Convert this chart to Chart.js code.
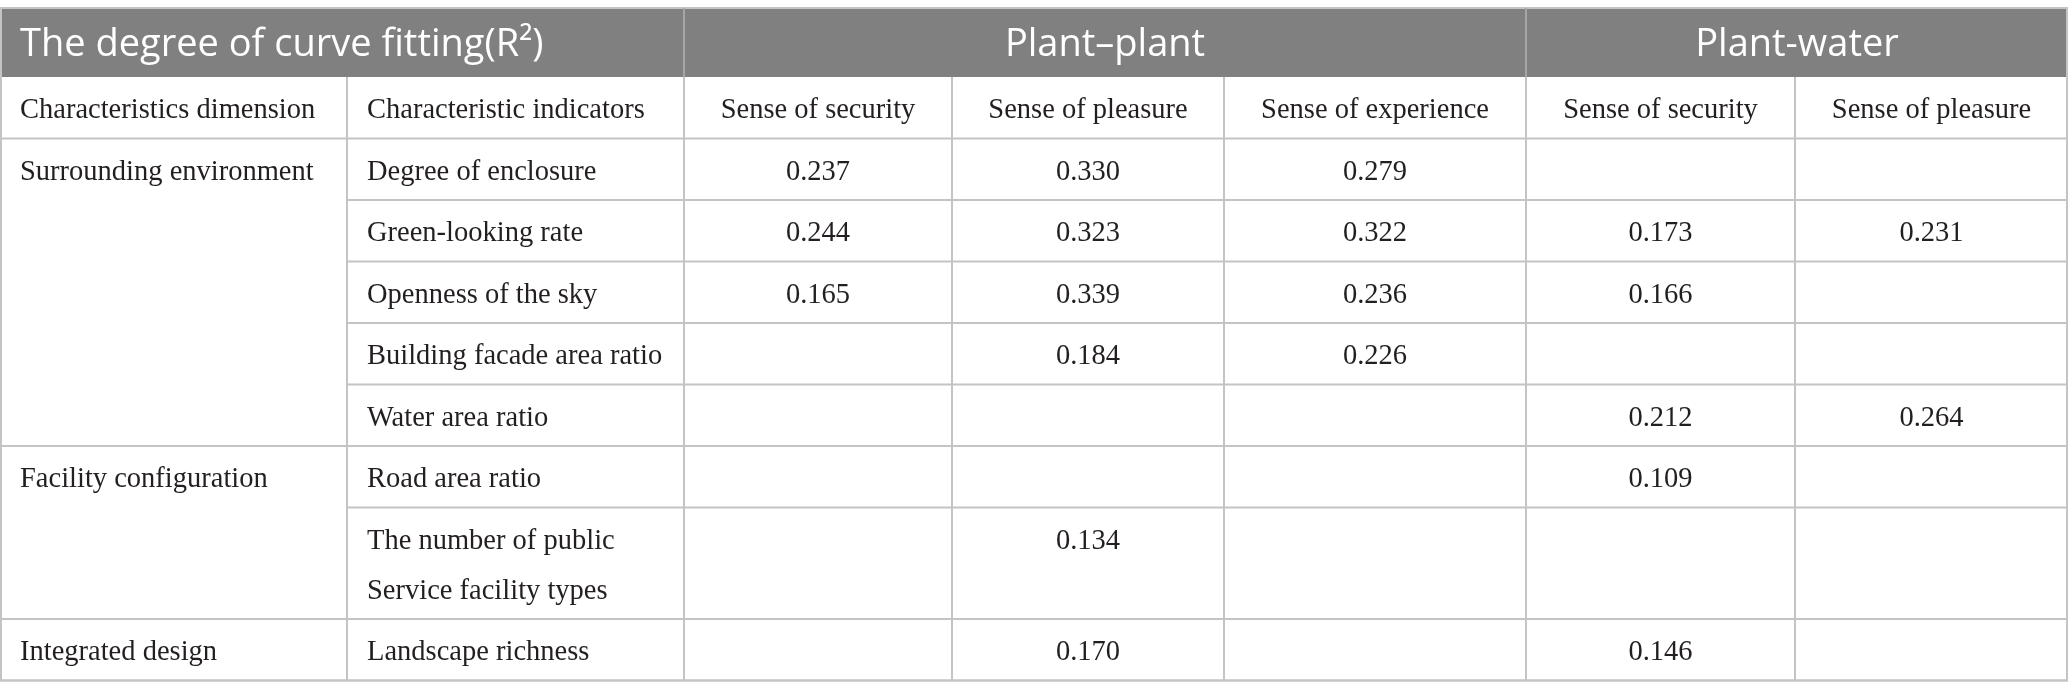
<!DOCTYPE html>
<html><head><meta charset="utf-8">
<script src="https://cdn.jsdelivr.net/npm/chart.js@4.4.1/dist/chart.umd.min.js"></script>
<style>html,body{margin:0;padding:0;background:#fff;overflow:hidden}canvas{display:block}</style>
</head><body>
<canvas id="c" width="2068" height="698"></canvas>
<script>
// ---------- data ----------
const titleLabel = "The degree of curve fitting(R²)";
const groups = ["Plant–plant", "Plant-water"];
const groupSpans = [3, 2];
const headLabels = ["Characteristics dimension", "Characteristic indicators"];
const metrics = ["Sense of security", "Sense of pleasure", "Sense of experience", "Sense of security", "Sense of pleasure"];
const dimensions = ["Surrounding environment", "Facility configuration", "Integrated design"];
const dimensionRows = [5, 2, 1];
const indicators = [
  "Degree of enclosure",
  "Green-looking rate",
  "Openness of the sky",
  "Building facade area ratio",
  "Water area ratio",
  "Road area ratio",
  "The number of public\nService facility types",
  "Landscape richness"
];
const ppSecurity   = [0.237, 0.244, 0.165, null,  null,  null,  null,  null];
const ppPleasure   = [0.330, 0.323, 0.339, 0.184, null,  null,  0.134, 0.170];
const ppExperience = [0.279, 0.322, 0.236, 0.226, null,  null,  null,  null];
const pwSecurity   = [null,  0.173, 0.166, null,  0.212, 0.109, null,  0.146];
const pwPleasure   = [null,  0.231, null,  null,  0.264, null,  null,  null];
const series = [ppSecurity, ppPleasure, ppExperience, pwSecurity, pwPleasure];

// ---------- layout / style ----------
const W = 2068, H = 698;
const colEdges = [0, 347, 684, 952, 1224, 1526, 1795, 2068];
const tableTop = 8, bandH = 69, rowH = 61.5, lineH = 50, padX = 20, textOff = 34;
const bandColor = "#808080", lineColor = "#c4c4c4", bandLine = "#a6a6a6", textColor = "#231f20";
const serif = '28.5px "Liberation Serif", "DejaVu Serif", serif';
const sans = '38px "Open Sans", "Noto Sans", sans-serif';

const rowTops = [];
(function () {
  let y = tableTop + bandH + rowH;
  indicators.forEach(t => { rowTops.push(y); y += rowH + (t.split("\n").length - 1) * lineH; });
  rowTops.push(y);
})();
const colCenter = i => (colEdges[i] + colEdges[i + 1]) / 2;

const datasets = series.map((vals, j) => ({
  label: metrics[j],
  data: vals.map((v, i) => v == null ? null : { x: colCenter(2 + j), y: rowTops[i] + textOff, v })
            .filter(p => p),
  pointRadius: 0, pointHoverRadius: 0, showLine: false
}));

const tablePlugin = {
  id: "table",
  beforeDatasetsDraw(chart) {
    const ctx = chart.ctx, xs = chart.scales.x, ys = chart.scales.y;
    const X = v => xs.getPixelForValue(v), Y = v => ys.getPixelForValue(v);
    const bottom = rowTops[rowTops.length - 1];
    ctx.save();
    ctx.fillStyle = "#fff"; ctx.fillRect(0, 0, W, H);
    // header band
    ctx.fillStyle = bandColor;
    ctx.fillRect(X(0), Y(tableTop), X(W) - X(0), Y(tableTop + bandH) - Y(tableTop));
    const hline = (x0, x1, y, c) => { ctx.strokeStyle = c || lineColor; ctx.lineWidth = 2; ctx.beginPath(); ctx.moveTo(X(x0), Y(y)); ctx.lineTo(X(x1), Y(y)); ctx.stroke(); };
    const vline = (x, y0, y1, c) => { ctx.strokeStyle = c || lineColor; ctx.lineWidth = 2; ctx.beginPath(); ctx.moveTo(X(x), Y(y0)); ctx.lineTo(X(x), Y(y1)); ctx.stroke(); };
    hline(0, W, tableTop);
    // band separators
    let ci = 2;
    groupSpans.forEach((s) => { vline(colEdges[ci], tableTop, tableTop + bandH, bandLine); ci += s; });
    vline(1, tableTop, bottom); vline(W - 1, tableTop, bottom);
    // inner verticals
    for (let i = 1; i < colEdges.length - 1; i++) vline(colEdges[i], tableTop + bandH, bottom);
    // horizontals
    hline(0, W, tableTop + bandH + rowH);
    for (let r = 1; r < rowTops.length; r++) hline(colEdges[1], W, rowTops[r]);
    let acc = 0;
    dimensionRows.forEach(n => { acc += n; hline(0, colEdges[1], rowTops[acc]); });
    hline(0, W, bottom);
    // band texts
    ctx.fillStyle = "#fff"; ctx.font = sans; ctx.textBaseline = "middle";
    const by = Y(tableTop + bandH / 2 + 3);
    ctx.textAlign = "left"; ctx.fillText(titleLabel, X(padX), by);
    ctx.textAlign = "center";
    ci = 2;
    groups.forEach((g, k) => { const x0 = colEdges[ci], x1 = colEdges[ci + groupSpans[k]]; ctx.fillText(g, X((x0 + x1) / 2), by); ci += groupSpans[k]; });
    // sub header
    ctx.fillStyle = textColor; ctx.font = serif;
    const sy = Y(tableTop + bandH + textOff);
    ctx.textAlign = "left";
    headLabels.forEach((t, i) => ctx.fillText(t, X(colEdges[i] + padX), sy));
    ctx.textAlign = "center";
    metrics.forEach((t, j) => ctx.fillText(t, X(colCenter(2 + j)), sy));
    // dimensions & indicators
    ctx.textAlign = "left";
    acc = 0;
    dimensions.forEach((d, k) => { ctx.fillText(d, X(colEdges[0] + padX), Y(rowTops[acc] + textOff)); acc += dimensionRows[k]; });
    indicators.forEach((t, i) => t.split("\n").forEach((ln, l) => ctx.fillText(ln, X(colEdges[1] + padX), Y(rowTops[i] + textOff + l * lineH))));
    ctx.restore();
  },
  afterDatasetsDraw(chart) {
    const ctx = chart.ctx;
    ctx.save();
    ctx.fillStyle = textColor; ctx.font = serif; ctx.textAlign = "center"; ctx.textBaseline = "middle";
    chart.data.datasets.forEach((ds, j) => {
      chart.getDatasetMeta(j).data.forEach((el, k) => ctx.fillText(ds.data[k].v.toFixed(3), el.x, el.y));
    });
    ctx.restore();
  }
};

new Chart(document.getElementById("c"), {
  type: "scatter",
  data: { datasets },
  options: {
    responsive: false, animation: false, devicePixelRatio: 1,
    layout: { padding: 0 },
    scales: {
      x: { type: "linear", min: 0, max: W, display: false },
      y: { type: "linear", min: 0, max: H, reverse: true, display: false }
    },
    plugins: { legend: { display: false }, tooltip: { enabled: false } },
    events: []
  },
  plugins: [tablePlugin]
});
</script>
</body></html>
